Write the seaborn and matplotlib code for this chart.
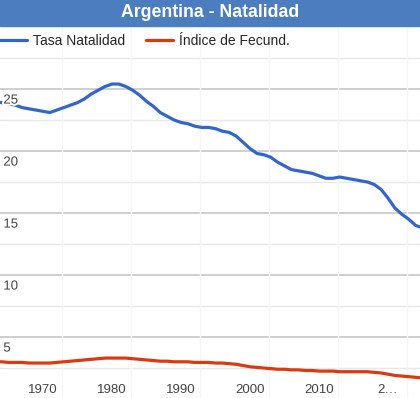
import numpy as np
import pandas as pd
import seaborn as sns
import matplotlib.pyplot as plt
import matplotlib.patheffects as pe
from matplotlib.patches import Rectangle

# data
years = list(range(1963, 2026))
tasa_natalidad = [24.0, 23.9, 23.8, 23.7, 23.5, 23.4, 23.3, 23.2, 23.1, 23.3,
                  23.5, 23.7, 23.9, 24.2, 24.6, 24.9, 25.2, 25.4, 25.4, 25.2,
                  24.9, 24.5, 24.0, 23.6, 23.1, 22.8, 22.5, 22.3, 22.2, 22.0,
                  21.9, 21.9, 21.8, 21.6, 21.5, 21.2, 20.7, 20.2, 19.8, 19.7,
                  19.5, 19.1, 18.8, 18.5, 18.4, 18.3, 18.2, 18.0, 17.8, 17.8,
                  17.9, 17.8, 17.7, 17.6, 17.5, 17.3, 16.9, 16.2, 15.4, 14.9,
                  14.5, 14.0, 13.8]
indice_fecund = [3.0, 3.0, 2.95, 2.95, 2.95, 2.9, 2.9, 2.9, 2.9, 2.95,
                 3.0, 3.05, 3.1, 3.15, 3.2, 3.25, 3.3, 3.3, 3.3, 3.3,
                 3.25, 3.2, 3.15, 3.1, 3.05, 3.05, 3.0, 3.0, 3.0, 2.95,
                 2.95, 2.95, 2.9, 2.9, 2.85, 2.8, 2.7, 2.6, 2.55, 2.5,
                 2.45, 2.4, 2.4, 2.35, 2.35, 2.3, 2.3, 2.25, 2.25, 2.25,
                 2.2, 2.2, 2.2, 2.2, 2.2, 2.15, 2.1, 2.0, 1.9, 1.85,
                 1.8, 1.75, 1.7]
series_names = ['Tasa Natalidad', 'Índice de Fecund.']
x_ticks = [1970, 1980, 1990, 2000, 2010, 2020]
x_tick_labels = ['1970', '1980', '1990', '2000', '2010', '2…']
y_ticks = [5, 10, 15, 20, 25]

df = pd.DataFrame({
    'year': years * 2,
    'value': tasa_natalidad + indice_fecund,
    'serie': [series_names[0]] * len(years) + [series_names[1]] * len(years),
})

sns.set_theme(style='white')
plt.rcParams['font.family'] = ['Liberation Sans', 'DejaVu Sans']

W, H = 420, 398
fig = plt.figure(figsize=(W / 100, H / 100), dpi=100)
ax = fig.add_axes([0, -1 / H, 1, 373 / H])

# grid lines
for v in np.arange(2.5, 28, 2.5):
    major = v % 5 == 0
    ax.axhline(v, color='#cccccc' if major else '#e8e8e8', lw=1.3 if major else 1.0, zorder=0)
for xv in np.arange(1972.75, 2025, 10):
    ax.axvline(xv, color='#f6f6f6', lw=1.0, zorder=0)
ax.axhline(0.12, color='#dddddd', lw=0.8, ls=':', zorder=0)

sns.lineplot(data=df, x='year', y='value', hue='serie',
             palette=['#3366cc', '#dc3912'], linewidth=2.3, ax=ax)

ax.set_xlim(1970 - 43 / 6.9, 1970 + 377 / 6.9)
ax.set_ylim(0, 373 / 12.4)
ax.set_xlabel('')
ax.set_ylabel('')
for s in ax.spines.values():
    s.set_visible(False)

ax.set_yticks([])
ax.set_xticks(x_ticks)
ax.set_xticklabels(x_tick_labels)
ax.tick_params(axis='x', length=0, pad=-11, labelsize=9.5, labelcolor='#444444')

for v in y_ticks:
    ax.text(0.008, v - 0.45, str(v), transform=ax.get_yaxis_transform(),
            ha='left', va='top', fontsize=9.5, color='#444444', zorder=5,
            path_effects=[pe.withStroke(linewidth=3, foreground='white')])

sns.move_legend(ax, 'center left', bbox_to_anchor=(0, 1 - 41 / H),
                bbox_transform=fig.transFigure, ncol=2, title=None, frameon=False,
                fontsize=10, handlelength=1.95, handletextpad=0.45,
                columnspacing=1.45, borderpad=0, borderaxespad=0)

# title bar
fig.patches.append(Rectangle((0, 1 - 26 / H), 1, 26 / H, transform=fig.transFigure,
                             color='#4b7dbf', zorder=0))
fig.text(0.5, 1 - 12.5 / H, 'Argentina - Natalidad', ha='center', va='center',
         color='white', fontsize=12.7, fontweight='bold')

fig.savefig('out.png', dpi=100)
